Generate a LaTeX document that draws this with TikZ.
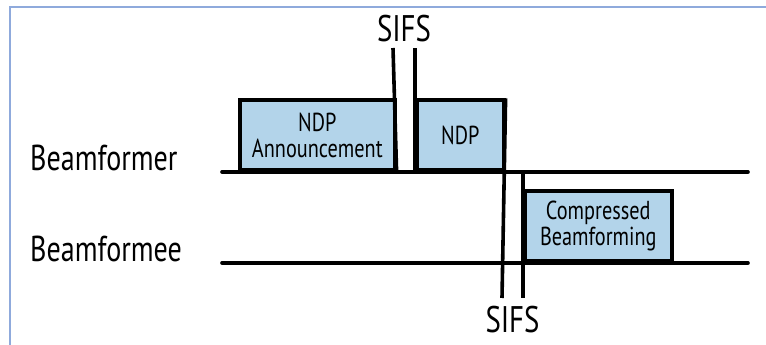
\documentclass[tikz,border=0pt]{standalone}
\usepackage{fontspec}
\setmainfont{PT Sans}[FakeStretch=0.78]
\usepackage{xcolor}
\usepackage{tikz}
\usetikzlibrary{positioning, calc}

\definecolor{boxblue}{RGB}{179,212,234}
\definecolor{edgeblue}{RGB}{143,170,220}

\begin{document}
\begin{tikzpicture}[
        x=1pt, y=1pt,
        frame/.style={
            draw=black,
            line width=3.6pt,
            fill=boxblue,
            anchor=south west,
            minimum height=70pt,
            inner sep=0pt,
            align=center,
            font=\fontsize{26}{26}\selectfont
        },
        timeline/.style={
            line width=3.6pt,
            line cap=round,
            color=black
        },
        gap/.style={
            line width=3.6pt,
            color=black
        },
        station/.style={
            anchor=base west,
            inner sep=0pt,
            font=\fontsize{36}{38}\selectfont
        },
        sifs/.style={
            inner sep=0pt,
            font=\fontsize{37}{39}\selectfont
        }
    ]
    \useasboundingbox (0,0) rectangle (766,345);

    % Screenshot edge
    \draw[edgeblue, line width=1.5pt] (10,0) -- (10,338) -- (766,338);

    % Stations
    \node (bfmr) [station] at (30,174) {Beamformer};
    \node (bfme) [station] at (30,83) {Beamformee};

    % Time lines
    \coordinate (bfstart) at (222,173);
    \coordinate (bfend) at (748,173);
    \coordinate (bestart) at (222,82);
    \coordinate (beend) at (748,82);

    % Frames
    \node (ndpa) [frame, minimum width=155pt] at (238,173) {NDP\\Announcement};
    \node (ndp) [frame, minimum width=87pt] at (415,173) {NDP};
    \node (cbf) [frame, minimum width=147pt] at (523,82) {Compressed\\Beamforming};

    \draw [timeline] (bfstart) -- (bfend);
    \draw [timeline] (bestart) -- (beend);

    % SIFS gaps
    \coordinate (gapAtop) at (393,297);
    \coordinate (gapBtop) at (415,297);
    \coordinate (gapCbot) at (502,47);
    \coordinate (gapDtop) at (523,173);
    \coordinate (gapDbot) at (523,47);

    \draw [gap] (ndpa.south east) -- (gapAtop);
    \draw [gap] (ndp.south west) -- (gapBtop);
    \draw [gap] (ndp.north east) -- (gapCbot);
    \draw [gap] (gapDtop) -- (gapDbot);

    \node (sifsup) [sifs, above=6pt of $(gapAtop)!0.5!(gapBtop)$] {SIFS};
    \node (sifsdown) [sifs, below=8pt of $(gapCbot)!0.5!(gapDbot)$] {SIFS};

\end{tikzpicture}
\end{document}
